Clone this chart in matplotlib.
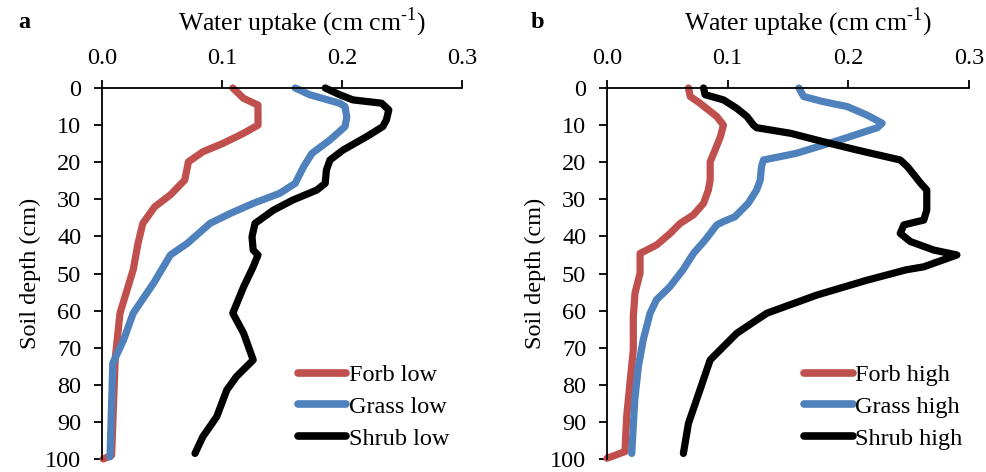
import matplotlib
matplotlib.use("Agg")
import matplotlib.pyplot as plt

plt.rcParams['font.family'] = ['Liberation Serif', 'DejaVu Serif']
plt.rcParams['mathtext.fontset'] = 'custom'
plt.rcParams['mathtext.rm'] = 'Liberation Serif'
plt.rcParams['axes.unicode_minus'] = False

# Depth profiles of root water uptake (depth in cm, uptake in cm cm-1)
forb_low_depth = [0, 2.8, 4.6, 10, 12.2, 14.9, 17.2, 19.9, 24.8, 28.8, 32, 36.5, 41.9, 49, 60.7, 73, 99, 100]
forb_low = [0.109, 0.118, 0.130, 0.130, 0.118, 0.101, 0.084, 0.072, 0.069, 0.057, 0.044, 0.034, 0.030, 0.026, 0.015, 0.011, 0.008, 0.001]

grass_low_depth = [0, 1.8, 4.1, 5, 7.9, 10.4, 14, 17.6, 21.2, 25.7, 28.4, 31.1, 33.8, 36.5, 41.9, 45, 52.6, 60.7, 67.9, 74.2, 99.4]
grass_low = [0.161, 0.173, 0.198, 0.2025, 0.204, 0.2025, 0.19, 0.175, 0.168, 0.161, 0.148, 0.126, 0.107, 0.09, 0.071, 0.057, 0.043, 0.026, 0.018, 0.009, 0.0067]

shrub_low_depth = [0, 1.8, 3.2, 4.1, 5.9, 8.6, 10.4, 13.1, 16.7, 19.4, 22.1, 25.7, 27.5, 30.2, 32.9, 36.5, 40.1, 43.7, 45, 48.2, 53.6, 60.7, 66.1, 73.3, 77.8, 81.4, 88.6, 94, 98.5]
shrub_low = [0.186, 0.198, 0.209, 0.233, 0.239, 0.237, 0.234, 0.2206, 0.201, 0.19, 0.187, 0.186, 0.179, 0.159, 0.143, 0.1275, 0.125, 0.126, 0.130, 0.126, 0.118, 0.109, 0.118, 0.126, 0.112, 0.104, 0.0956, 0.084, 0.0775]

forb_high_depth = [0, 2.3, 4.1, 7.7, 10, 13.1, 16.7, 19.9, 24.8, 27.5, 31.1, 34.2, 36.5, 39.2, 42.3, 44.6, 49.9, 55.3, 61.6, 70.6, 79.6, 88.6, 98, 99.8]
forb_high = [0.0675, 0.069, 0.077, 0.091, 0.0965, 0.094, 0.0896, 0.0855, 0.0855, 0.084, 0.080, 0.0716, 0.0606, 0.0523, 0.0412, 0.0274, 0.0274, 0.0232, 0.0218, 0.0218, 0.019, 0.0163, 0.0149, 0.0]

grass_high_depth = [0, 2.3, 3.7, 5, 7.3, 9.5, 10.7, 14, 17.6, 19.4, 21.2, 24.8, 27.5, 31.1, 34.7, 36, 36.9, 41, 44.6, 49, 53.6, 57.1, 60.7, 67.9, 75.1, 84.1, 98.5]
grass_high = [0.159, 0.163, 0.1795, 0.199, 0.2155, 0.228, 0.224, 0.193, 0.157, 0.1297, 0.128, 0.127, 0.124, 0.117, 0.106, 0.0965, 0.091, 0.0813, 0.0716, 0.063, 0.052, 0.041, 0.0357, 0.030, 0.026, 0.023, 0.0205]

shrub_high_depth = [0, 1.8, 3.2, 5.5, 7.7, 10, 10.7, 12.2, 14.5, 16.7, 19.4, 21.2, 25.7, 27.5, 32.9, 35.6, 36.9, 39.2, 41.4, 43.7, 45, 48.2, 49, 51.8, 55.8, 60.7, 66.1, 73.3, 81.4, 90.4, 98.5]
shrub_high = [0.080, 0.0813, 0.0965, 0.1076, 0.116, 0.1214, 0.124, 0.152, 0.1795, 0.207, 0.243, 0.249, 0.26, 0.265, 0.265, 0.2625, 0.246, 0.243, 0.2515, 0.271, 0.290, 0.2625, 0.248, 0.2155, 0.174, 0.1325, 0.1076, 0.0855, 0.077, 0.0675, 0.0633]

x_ticks = [0.0, 0.1, 0.2, 0.3]
x_tick_labels = ["0.0", "0.1", "0.2", "0.3"]
y_ticks = [0, 10, 20, 30, 40, 50, 60, 70, 80, 90, 100]

RED = "#C0504D"
BLUE = "#4F81BD"
BLACK = "#000000"

W, H = 987, 472
fig = plt.figure(figsize=(W / 100, H / 100), dpi=100)

def axes_rect(left, right, top, bottom):
    return [left / W, 1 - bottom / H, (right - left) / W, (bottom - top) / H]

ax_a = fig.add_axes(axes_rect(102, 462, 88, 459))
ax_b = fig.add_axes(axes_rect(607, 969, 88, 459))

panels = [
    (ax_a, "a", 18, [(forb_low, forb_low_depth, RED, "Forb low"),
                     (grass_low, grass_low_depth, BLUE, "Grass low"),
                     (shrub_low, shrub_low_depth, BLACK, "Shrub low")]),
    (ax_b, "b", 531, [(forb_high, forb_high_depth, RED, "Forb high"),
                      (grass_high, grass_high_depth, BLUE, "Grass high"),
                      (shrub_high, shrub_high_depth, BLACK, "Shrub high")]),
]

FS = 17.5
for ax, tag, tag_x, series in panels:
    for vals, depth, color, label in series:
        ax.plot(vals, depth, color=color, lw=5.2, label=label,
                solid_joinstyle="round", solid_capstyle="round", clip_on=False)
    ax.set_xlim(0, 0.3)
    ax.set_ylim(100, 0)
    ax.xaxis.tick_top()
    ax.xaxis.set_label_position("top")
    ax.set_xticks(x_ticks)
    ax.set_xticklabels(x_tick_labels)
    ax.set_yticks(y_ticks)
    for s in ("right", "bottom"):
        ax.spines[s].set_visible(False)
    for s in ("left", "top"):
        ax.spines[s].set_linewidth(1.3)
    ax.tick_params(axis="x", direction="out", length=5.5, width=1.3,
                   labelsize=FS, pad=8)
    ax.tick_params(axis="y", direction="out", length=5.5, width=1.3,
                   labelsize=FS, pad=9.5)
    ax.set_xlabel("Water uptake (cm cm$^{\\mathregular{\u20101}}$)", fontsize=18.5,
                  labelpad=13, x=0.555)
    ax.set_ylabel("Soil depth (cm)", fontsize=FS, labelpad=3)
    fig.text(tag_x / W, 1 - 22 / H, tag, fontsize=FS, fontweight="bold",
             ha="left", va="center")
    leg = ax.legend(loc="upper left", bbox_to_anchor=(0.544, 0.256), frameon=False,
                    fontsize=FS, handlelength=2.0, handletextpad=0.12,
                    labelspacing=0.4, borderpad=0, borderaxespad=0)
    for line in leg.get_lines():
        line.set_linewidth(5.5)
        line.set_solid_capstyle("round")

fig.savefig("out.png", dpi=100)
